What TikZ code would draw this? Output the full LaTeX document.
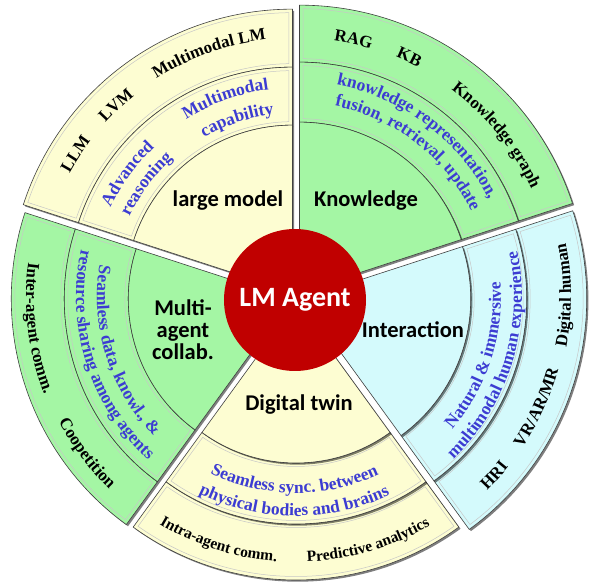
\documentclass[tikz,border=0pt]{standalone}
\usepackage{fontspec}
\setmainfont{Liberation Serif}
\newfontfamily\carl{Carlito}
\usetikzlibrary{decorations.text,shadows}
\definecolor{cyel}{RGB}{253,253,210}
\definecolor{cgrn}{RGB}{164,246,164}
\definecolor{ccyan}{RGB}{212,250,252}
\definecolor{cred}{RGB}{192,0,0}
\definecolor{cblue}{RGB}{60,60,210}
\newcommand\outerfont{\bfseries\fontsize{17}{20}\selectfont}
\newcommand\smallouter{\bfseries\fontsize{15.5}{18}\selectfont}
\newcommand\bluefont{\bfseries\fontsize{17.5}{20}\selectfont\color{cblue}}
\tikzset{
  shad/.style={drop shadow={shadow xshift=1.7pt,shadow yshift=-1.7pt,opacity=0.5,fill=black}},
  piecestyle/.style={fill=#1, draw=black!75, line width=0.6pt, shad},
  inlab/.style={font=\carl\bfseries\fontsize{22.5}{22}\selectfont, align=center, inner sep=0pt}
}
\newcommand\ringpiece[5]{%
  \path[piecestyle=#5] (#1:#3) arc[start angle=#1, end angle=#2, radius=#3] -- (#2:#4) arc[start angle=#2, end angle=#1, radius=#4] -- cycle;
  \pgfmathsetmacro\dA{200.5/(#3+3.5)}%
  \pgfmathsetmacro\dB{200.5/(#4-3.5)}%
  \draw[black!22, line width=0.5pt] ({#1+\dA}:{#3+3.5}) arc[start angle={#1+\dA}, end angle={#2-\dA}, radius={#3+3.5}] -- ({#2-\dB}:{#4-3.5}) arc[start angle={#2-\dB}, end angle={#1+\dB}, radius={#4-3.5}] -- cycle;
}
\newcommand\wedgepiece[4]{%
  \path[piecestyle=#4] (0,0) -- (#1:#3) arc[start angle=#1, end angle=#2, radius=#3] -- cycle;
}
\newcommand\drawsector[5]{%
  \begin{scope}[shift={(#1:6)}]
    \pgfmathsetmacro\aA{#1-36}%
    \pgfmathsetmacro\aB{#1+36}%
    \ringpiece{\aA}{\aB}{#3}{#4}{#5}
    \ringpiece{\aA}{\aB}{#2}{#3}{#5}
    \wedgepiece{\aA}{\aB}{#2}{#5}
  \end{scope}}
\newcommand\cwtext[4]{%
  \path[decorate, decoration={text along path, text align=center, text={|#3|#4}}] ({#1+60}:#2) arc[start angle={#1+60}, end angle={#1-60}, radius=#2];}
\newcommand\ccwtext[4]{%
  \path[decorate, decoration={text along path, text align=center, text={|#3|#4}}] ({#1-60}:#2) arc[start angle={#1-60}, end angle={#1+60}, radius=#2];}
\begin{document}
\begin{tikzpicture}[x=1pt,y=1pt]
\useasboundingbox (-296,-288) rectangle (293,297);
\drawsector{126}{167}{225}{283}{cyel}
\drawsector{54}{170}{230}{287}{cgrn}
\drawsector{198}{162}{226}{279}{cgrn}
\drawsector{270}{160}{221}{277}{cyel}
\drawsector{342}{169}{225}{285}{ccyan}
% large model
\cwtext{147}{258}{\outerfont}{LLM}
\cwtext{133.2}{258}{\outerfont}{LVM}
\cwtext{109.6}{259}{\outerfont}{Multimodal LM}
\cwtext{143.8}{206}{\bluefont}{Advanced}
\cwtext{143}{185}{\bluefont}{reasoning}
\cwtext{109.6}{209}{\bluefont}{Multimodal}
\cwtext{108.4}{184}{\bluefont}{capability}
% knowledge
\cwtext{77.4}{259}{\outerfont}{RAG}
\cwtext{64.7}{260}{\outerfont}{KB}
\cwtext{38.9}{259}{\outerfont}{Knowledge graph}
\cwtext{53}{216}{\bluefont}{knowledge representation,}
\cwtext{52.2}{195}{\bluefont}{fusion, retrieval, update}
% multi-agent
\ccwtext{186.9}{270}{\outerfont}{Inter-agent comm.}
\ccwtext{216.8}{268}{\outerfont}{Coopetition}
\ccwtext{197.6}{199}{\bluefont}{Seamless data, knowl., {\&}}
\ccwtext{197.6}{220}{\bluefont}{resource sharing among agents}
% digital twin
\ccwtext{269.5}{196}{\bluefont}{Seamless sync. between}
\ccwtext{269.5}{219}{\bluefont}{physical bodies and brains}
\ccwtext{252.4}{265}{\smallouter}{Intra-agent comm.}
\ccwtext{286.4}{265}{\smallouter}{Predictive analytics}
% interaction
\ccwtext{342}{205}{\bluefont}{Natural {\&} immersive}
\ccwtext{343}{226}{\bluefont}{multimodal human experience}
\ccwtext{318}{272}{\outerfont}{HRI}
\ccwtext{335.4}{272}{\outerfont}{VR/AR/MR}
\ccwtext{0.4}{275}{\outerfont}{Digital human}
% inner labels
\node[inlab] (lm) at (-68,96) {large model};
\node[inlab] (kn) at (70,96) {Knowledge};
\node[inlab] (ma) at (-113,-33) {Multi-\\agent\\collab.};
\node[inlab] (dt) at (3,-108) {Digital twin};
\node[inlab] (ia) at (117,-33) {Interaction};
\node[circle, fill=cred, minimum size=142pt, inner sep=0pt, text=white, font=\carl\bfseries\fontsize{28}{30}\selectfont] (center) at (-1,-3) {LM Agent};
\end{tikzpicture}
\end{document}
